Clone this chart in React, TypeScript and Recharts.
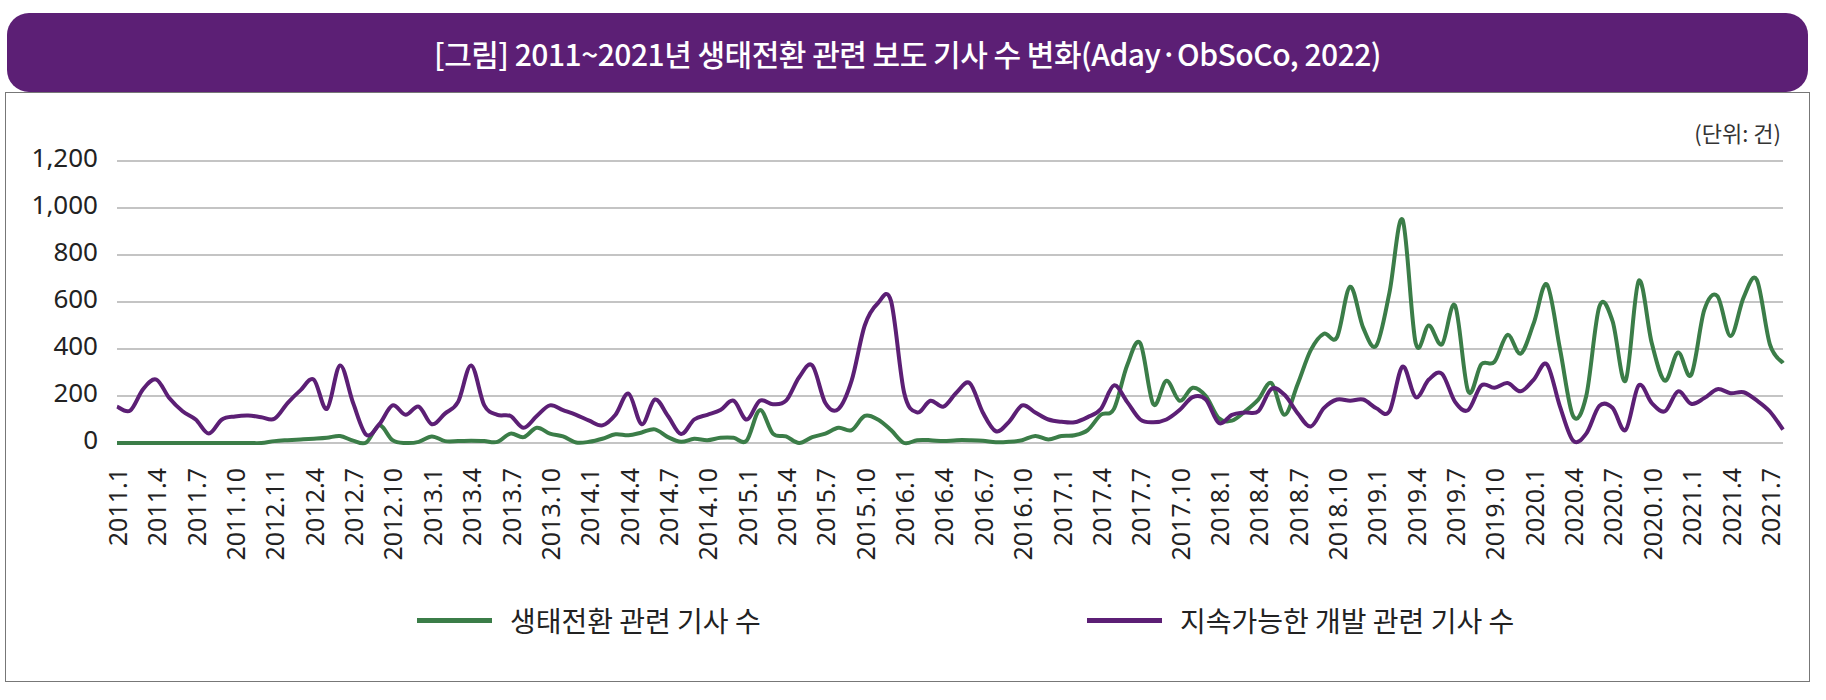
import { LineChart, Line, XAxis, YAxis, CartesianGrid, Legend } from "recharts";

// month categories 2011.1 ~ 2021.8
const months: string[] = [];
for (let y = 2011; y <= 2021; y++) {
    for (let m = 1; m <= 12; m++) {
        if (y === 2021 && m > 8) break;
        months.push(`${y}.${m}`);
    }
}

// labels printed under every third month (as in the source, incl. "2012.11")
const tickLabels = [
    "2011.1", "2011.4", "2011.7", "2011.10", "2012.11", "2012.4", "2012.7", "2012.10",
    "2013.1", "2013.4", "2013.7", "2013.10", "2014.1", "2014.4", "2014.7", "2014.10",
    "2015.1", "2015.4", "2015.7", "2015.10", "2016.1", "2016.4", "2016.7", "2016.10",
    "2017.1", "2017.4", "2017.7", "2017.10", "2018.1", "2018.4", "2018.7", "2018.10",
    "2019.1", "2019.4", "2019.7", "2019.10", "2020.1", "2020.4", "2020.7", "2020.10",
    "2021.1", "2021.4", "2021.7",
];

const yTicks = [0, 200, 400, 600, 800, 1000, 1200];

// 생태전환 관련 기사 수
const ecoValues = [
    0, 0, 0, 0, 0, 0, 0, 0, 0, 0, 0, 0,
    8, 12, 15, 18, 22, 30, 10, 2, 75, 12,
    0, 5, 28, 8, 8, 10, 8, 5, 40, 25, 65, 40, 28, 2, 5, 18, 37, 33, 45, 58, 25, 5,
    18, 12, 22, 22, 10, 140, 40, 28, 0, 25, 40, 65, 55, 115, 100, 55, 0, 12, 12, 8, 12, 12,
    10, 3, 5, 12, 30, 15, 30, 33, 55, 120, 145, 330, 425, 165, 265, 180, 235, 200, 105, 95, 135, 185,
    255, 120, 250, 395, 465, 450, 665, 490, 415, 640, 950, 425, 500, 420, 585, 220, 335, 345, 460, 380, 510, 675,
    400, 115, 200, 580, 520, 265, 690, 424, 265, 385, 290, 566, 625, 455, 620, 695, 420, 340,
];

// 지속가능한 개발 관련 기사 수
const sdgValues = [
    155, 138, 230, 270, 190, 135, 100, 40, 100, 113, 117, 110, 103, 170, 225, 270, 145, 330, 170, 35, 80, 160,
    120, 155, 80, 125, 175, 330, 160, 120, 115, 65, 115, 160, 140, 120, 95, 75, 120, 210, 80, 185, 115, 38,
    100, 120, 140, 180, 100, 180, 165, 180, 280, 330, 170, 145, 265, 500, 595, 605, 215, 130, 180, 155, 215, 255,
    130, 50, 90, 160, 130, 100, 90, 88, 110, 145, 245, 175, 100, 88, 100, 140, 195, 185, 85, 120, 130, 135,
    230, 205, 127, 70, 148, 185, 180, 185, 148, 135, 325, 195, 270, 295, 175, 140, 245, 235, 255, 220, 270, 335,
    155, 10, 40, 158, 150, 55, 245, 170, 135, 220, 167, 191, 229, 212, 216, 181, 134, 57,
];

const data = months.map((month, i) => ({
    month,
    eco: ecoValues[i],
    sdg: sdgValues[i],
}));

const tickMonths = months.filter((_, i) => i % 3 === 0);

const GREEN = "#3b7d48";
const PURPLE = "#5c1f75";
const KR = "'Noto Sans CJK KR', 'Noto Sans', sans-serif";

// spreadsheet-style smoothed line (Catmull-Rom through every point)
const smoothCurve = (context: any) => {
    let pts: number[][] = [];
    return {
        areaStart() {},
        areaEnd() {},
        lineStart() {
            pts = [];
        },
        point(x: number, y: number) {
            pts.push([+x, +y]);
        },
        lineEnd() {
            if (!pts.length) return;
            context.moveTo(pts[0][0], pts[0][1]);
            for (let i = 0; i < pts.length - 1; i++) {
                const p0 = pts[i - 1] || pts[i];
                const p1 = pts[i];
                const p2 = pts[i + 1];
                const p3 = pts[i + 2] || p2;
                context.bezierCurveTo(
                    p1[0] + (p2[0] - p0[0]) / 6,
                    p1[1] + (p2[1] - p0[1]) / 6,
                    p2[0] - (p3[0] - p1[0]) / 6,
                    p2[1] - (p3[1] - p1[1]) / 6,
                    p2[0],
                    p2[1]
                );
            }
        },
    };
};

const XTick = ({ x, y, payload }: any) => {
    const label = tickLabels[months.indexOf(payload.value) / 3];
    return (
        <text
            x={x}
            y={y}
            transform={`rotate(-90, ${x}, ${y})`}
            textAnchor="end"
            dominantBaseline="central"
            fontFamily="'Noto Sans', sans-serif"
            fontSize={25}
            fill="#222"
        >
            {label}
        </text>
    );
};

const YTick = ({ x, y, payload }: any) => (
    <text
        x={x}
        y={y - 4}
        textAnchor="end"
        dominantBaseline="central"
        fontFamily="'Noto Sans', sans-serif"
        fontSize={26}
        fill="#222"
    >
        {Number(payload.value).toLocaleString("en-US")}
    </text>
);

const legendLeft = [417, 1087];

const LegendContent = ({ payload }: any) => (
    <div style={{ position: "relative", width: 1826, height: 40 }}>
        {(payload || []).map((entry: any, i: number) => (
            <div
                key={entry.value}
                style={{
                    position: "absolute",
                    left: legendLeft[i],
                    top: 0,
                    height: 40,
                    display: "flex",
                    alignItems: "center",
                    whiteSpace: "nowrap",
                }}
            >
                <span
                    style={{
                        display: "inline-block",
                        width: 75,
                        height: 5,
                        background: entry.color,
                        marginRight: 18,
                    }}
                />
                <span style={{ fontFamily: KR, fontSize: 28, color: "#222" }}>
                    {entry.value}
                </span>
            </div>
        ))}
    </div>
);

export default function App() {
    return (
        <div
            style={{
                position: "absolute",
                left: 0,
                top: 0,
                width: 1826,
                height: 700,
                background: "#fff",
                overflow: "hidden",
            }}
        >
            <div
                style={{
                    position: "absolute",
                    left: 5,
                    top: 92,
                    width: 1803,
                    height: 588,
                    border: "1.5px solid #777",
                }}
            />

            <div
                style={{
                    position: "absolute",
                    left: 7,
                    top: 13,
                    width: 1801,
                    height: 79,
                    background: PURPLE,
                    borderRadius: 22,
                    color: "#fff",
                    fontFamily: KR,
                    fontSize: 30,
                    fontWeight: 500,
                    letterSpacing: -0.5,
                    display: "flex",
                    alignItems: "center",
                    justifyContent: "center",
                }}
            >
                [그림] 2011~2021년 생태전환 관련 보도 기사 수 변화(Aday·ObSoCo, 2022)
            </div>

            <div
                style={{
                    position: "absolute",
                    right: 1826 - 1781,
                    top: 117,
                    fontFamily: KR,
                    fontSize: 22,
                    color: "#333",
                    lineHeight: "30px",
                }}
            >
                (단위: 건)
            </div>

            <div style={{ position: "absolute", left: 0, top: 0 }}>
                <LineChart
                    width={1826}
                    height={700}
                    data={data}
                    margin={{ top: 161, right: 43, bottom: 0, left: 0 }}
                >
                    <CartesianGrid
                        vertical={false}
                        stroke="#8a8a8a"
                        strokeWidth={1.2}
                    />
                    <XAxis
                        dataKey="month"
                        ticks={tickMonths}
                        interval={0}
                        height={257}
                        axisLine={false}
                        tickLine={false}
                        tickSize={0}
                        tickMargin={25}
                        tick={<XTick />}
                        padding={{ left: 0, right: 0 }}
                    />
                    <YAxis
                        domain={[0, 1200]}
                        ticks={yTicks}
                        interval={0}
                        width={117}
                        axisLine={false}
                        tickLine={false}
                        tickSize={0}
                        tickMargin={19}
                        tick={<YTick />}
                    />
                    <Legend
                        layout="horizontal"
                        verticalAlign="middle"
                        align="center"
                        wrapperStyle={{ left: 0, top: 600, width: 1826, height: 40 }}
                        content={<LegendContent />}
                    />
                    <Line
                        dataKey="eco"
                        name="생태전환 관련 기사 수"
                        type={smoothCurve as any}
                        stroke={GREEN}
                        strokeWidth={4}
                        dot={false}
                        activeDot={false}
                        isAnimationActive={false}
                    />
                    <Line
                        dataKey="sdg"
                        name="지속가능한 개발 관련 기사 수"
                        type={smoothCurve as any}
                        stroke={PURPLE}
                        strokeWidth={4}
                        dot={false}
                        activeDot={false}
                        isAnimationActive={false}
                    />
                </LineChart>
            </div>
        </div>
    );
}
